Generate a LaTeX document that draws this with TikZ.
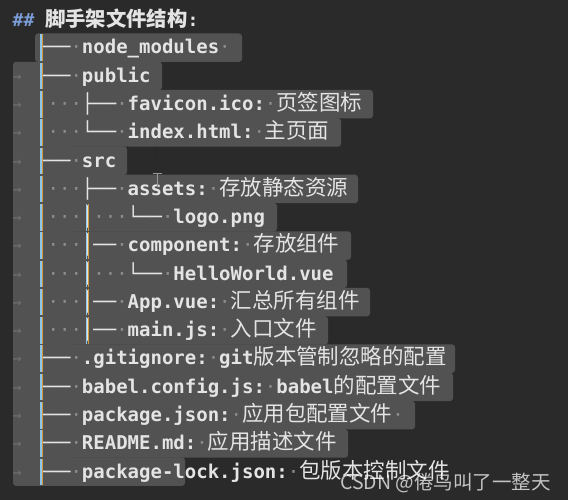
\documentclass[tikz,border=0pt]{standalone}
\usepackage{fontspec}
\setmonofont{DejaVu Sans Mono}
\newfontfamily\zhfont{Noto Sans CJK SC}[Scale=1.13]
\newfontfamily\markfont{Noto Sans CJK SC}
\usepackage{tikz}

\definecolor{editorbg}{HTML}{2A2A2A}
\definecolor{selgray}{HTML}{525252}
\definecolor{wsgray}{HTML}{8C8C8C}
\definecolor{codetext}{HTML}{E4E4E4}
\definecolor{guideblue}{HTML}{8EC6EA}
\definecolor{guideorange}{HTML}{D29A3C}
\definecolor{hashblue}{HTML}{7A9DD6}

\newcommand\wsdot{\textcolor{wsgray}{\mdseries·}}
\newcommand\zh[1]{{\zhfont\mdseries #1}}
\newcommand\br[1]{{\mdseries #1}}
% baseline of row #1
\newcommand\rowy[1]{54+(#1-1)*28.27}

\begin{document}
\begin{tikzpicture}[x=1pt, y=-1pt,
  codeline/.style={anchor=base west, inner sep=0pt, text=codetext,
    font=\ttfamily\bfseries\fontsize{19}{19}\selectfont},
  tabarrow/.style={anchor=base west, inner sep=0pt, text=wsgray!80!black,
    font=\ttfamily\fontsize{15}{15}\selectfont},
  selband/.style={fill=selgray, rounded corners=3pt},
  guide/.style={draw=guideblue, line width=1.7pt},
  guideo/.style={draw=guideorange, line width=0.9pt}]

  \fill[editorbg] (0,0) rectangle (568,500);
  \useasboundingbox (0,0) rectangle (568,500);

  % selection
  \fill[selband] (13,{\rowy{2}-20.5}) rectangle (70,{\rowy{16}+7.8});
  \fill[selband] (35,{\rowy{1}-20.5}) rectangle (242,{\rowy{1}+7.9});
  \foreach \k/\r in {2/162,3/373,4/341,5/127,6/358,7/277,8/351,9/347,
                     10/370,11/328,12/455,13/453,14/415,15/348,16/185}
    \fill[selband] (60,{\rowy{\k}-20.6}) rectangle (\r,{\rowy{\k}+7.9});

  % heading
  \node[anchor=base west, inner sep=0pt, text=codetext,
        font=\ttfamily\bfseries\fontsize{18}{18}\selectfont] (title) at (12.5,27)
    {\textcolor{hashblue}{\#\#}\ {\zhfont 脚手架文件结构}:};

  % tree
  \node[codeline] (l1) at (36,{\rowy{1}}) {\br{├──}\wsdot{}node\_modules\wsdot};
  \node[codeline] (l2) at (36,{\rowy{2}}) {\br{├──}\wsdot{}public};
  \node[codeline] (l3) at (36,{\rowy{3}}) {\br{│}\wsdot\wsdot\wsdot\br{├──}\wsdot{}favicon.ico:\wsdot\zh{页签图标}};
  \node[codeline] (l4) at (36,{\rowy{4}}) {\br{│}\wsdot\wsdot\wsdot\br{└──}\wsdot{}index.html:\wsdot\zh{主页面}};
  \node[codeline] (l5) at (36,{\rowy{5}}) {\br{├──}\wsdot{}src};
  \node[codeline] (l6) at (36,{\rowy{6}}) {\br{│}\wsdot\wsdot\wsdot\br{├──}\wsdot{}assets:\wsdot\zh{存放静态资源}};
  \node[codeline] (l7) at (36,{\rowy{7}}) {\br{│}\wsdot\wsdot\wsdot\br{│}\wsdot\wsdot\wsdot\br{└──}\wsdot{}logo.png};
  \node[codeline] (l8) at (36,{\rowy{8}}) {\br{│}\wsdot\wsdot\wsdot\br{│──}\wsdot{}component:\wsdot\zh{存放组件}};
  \node[codeline] (l9) at (36,{\rowy{9}}) {\br{│}\wsdot\wsdot\wsdot\br{│}\wsdot\wsdot\wsdot\br{└──}\wsdot{}HelloWorld.vue};
  \node[codeline] (l10) at (36,{\rowy{10}}) {\br{│}\wsdot\wsdot\wsdot\br{│──}\wsdot{}App.vue:\wsdot\zh{汇总所有组件}};
  \node[codeline] (l11) at (36,{\rowy{11}}) {\br{│}\wsdot\wsdot\wsdot\br{│──}\wsdot{}main.js:\wsdot\zh{入口文件}};
  \node[codeline] (l12) at (36,{\rowy{12}}) {\br{├──}\wsdot{}.gitignore:\wsdot{}git\zh{版本管制忽略的配置}};
  \node[codeline] (l13) at (36,{\rowy{13}}) {\br{├──}\wsdot{}babel.config.js:\wsdot{}babel\zh{的配置文件}};
  \node[codeline] (l14) at (36,{\rowy{14}}) {\br{├──}\wsdot{}package.json:\wsdot\zh{应用包配置文件}\wsdot};
  \node[codeline] (l15) at (36,{\rowy{15}}) {\br{├──}\wsdot{}README.md:\wsdot\zh{应用描述文件}};
  \node[codeline] (l16) at (36,{\rowy{16}}) {\br{├──}\wsdot{}package-lock.json:\wsdot\zh{包版本控制文件}};

  % tab marks and indent guides
  \foreach \k in {2,...,16}
    \node[tabarrow] (t\k) at (12.5,{\rowy{\k}-1}) {→};
  \foreach \k in {1,...,16} {
    \draw[guide] (40.9,{\rowy{\k}-19.5}) -- ++(0,26.5);
    \draw[guideo] (42.6,{\rowy{\k}-19.5}) -- ++(0,26.5);
  }
  \foreach \k in {7,...,11} {
    \draw[guide] (86.6,{\rowy{\k}-19.5}) -- ++(0,26.5);
    \draw[guideo] (88.3,{\rowy{\k}-19.5}) -- ++(0,26.5);
  }

  % caret and mouse pointer
  \draw[black!85, line width=1pt] (156,147) -- (156,161);
  \draw[gray!80, line width=0.9pt] (153,173) -- (162,173) (157.5,173) -- (157.5,186);

  % watermark
  \node[anchor=base west, inner sep=0pt, text=white, opacity=0.72,
        font=\markfont\fontsize{19.5}{19.5}\selectfont] (mark) at (340,489)
    {CSDN @倦鸟叫了一整天};
\end{tikzpicture}
\end{document}
